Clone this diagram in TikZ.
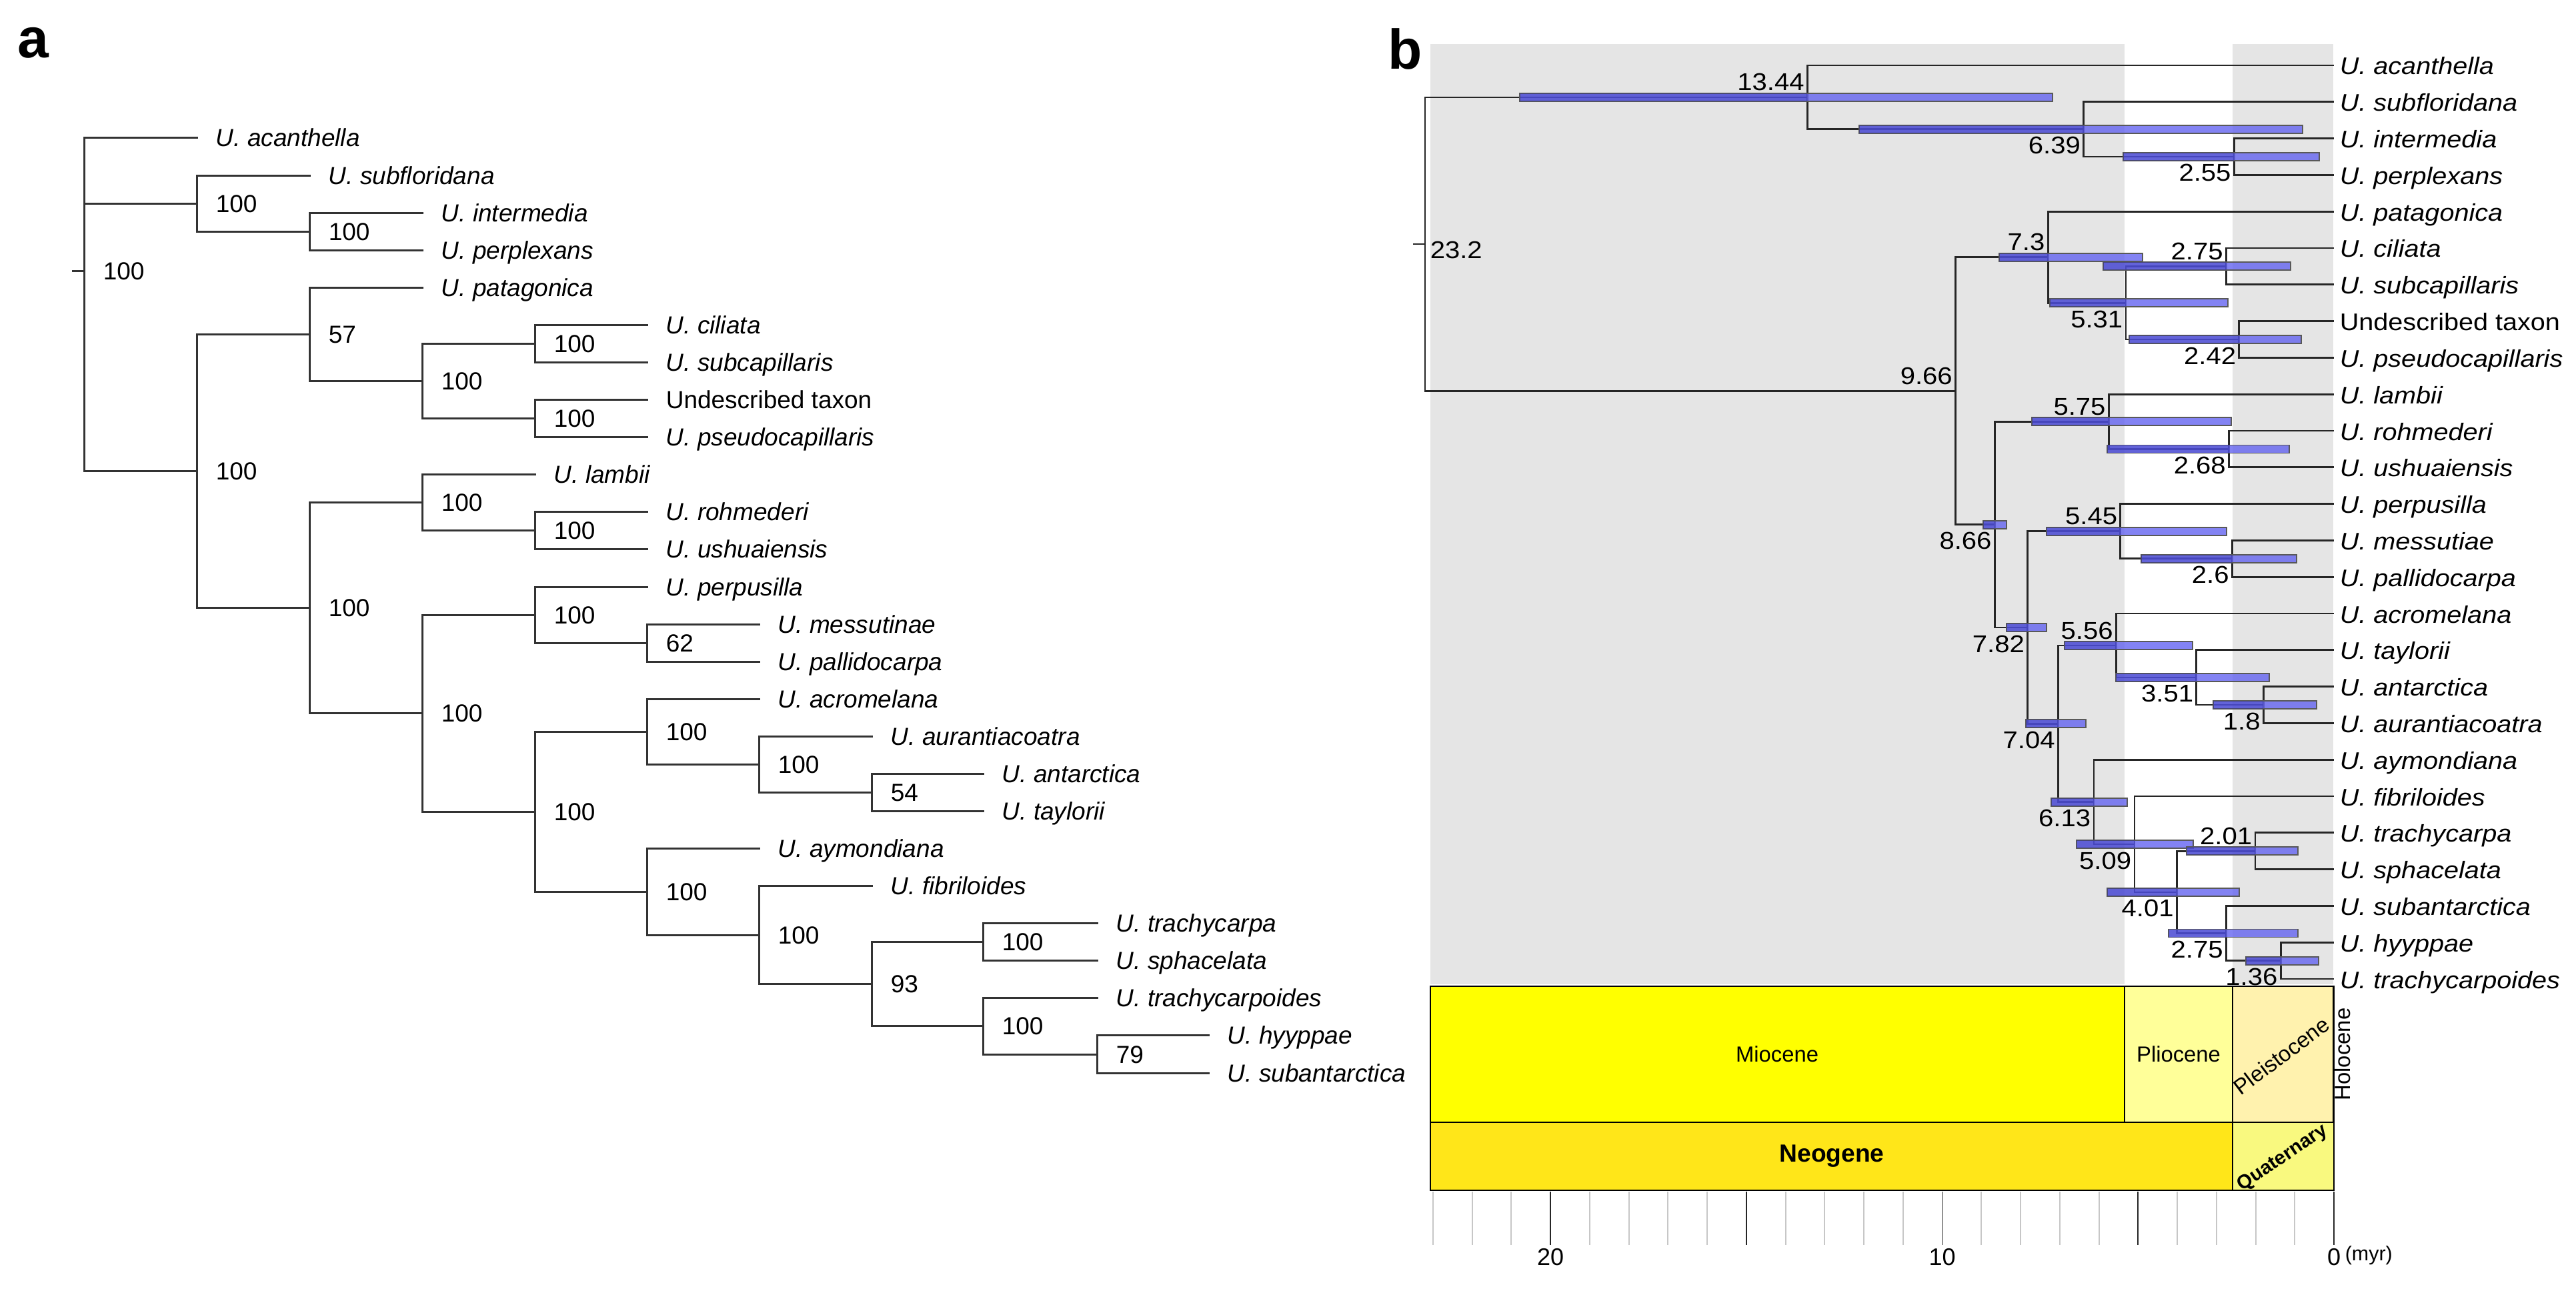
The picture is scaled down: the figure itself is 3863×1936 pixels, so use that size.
\documentclass[tikz,border=0pt]{standalone}
\usepackage{fontspec}
\setmainfont{Liberation Sans}
\newfontfamily\stretchfam[FakeStretch=1.1]{Liberation Sans}
\definecolor{bggray}{RGB}{229,229,229}
\definecolor{hpdblue}{RGB}{100,100,240}
\definecolor{hpddark}{RGB}{40,40,170}
\definecolor{miocene}{RGB}{255,255,0}
\definecolor{pliocene}{RGB}{255,255,153}
\definecolor{pleisto}{RGB}{255,242,174}
\definecolor{holo}{RGB}{254,242,224}
\definecolor{neogene}{RGB}{255,230,25}
\definecolor{quat}{RGB}{249,249,127}
\tikzset{
 brA/.style={draw=black!80, line width=0.75pt, line cap=rect},
 brB/.style={draw=black!85, line width=0.7pt, line cap=rect},
 tipA/.style={anchor=base west, inner sep=0pt, font=\fontsize{9.25pt}{11pt}\selectfont\itshape},
 tipAu/.style={anchor=base west, inner sep=0pt, font=\fontsize{9.25pt}{11pt}\selectfont},
 supA/.style={anchor=base west, inner sep=0pt, font=\fontsize{9.25pt}{11pt}\selectfont},
 tipB/.style={anchor=base west, inner sep=0pt, font=\stretchfam\fontsize{9pt}{11pt}\selectfont\itshape},
 tipBu/.style={anchor=base west, inner sep=0pt, font=\stretchfam\fontsize{9pt}{11pt}\selectfont},
 ageB/.style={anchor=base east, inner sep=0pt, font=\stretchfam\fontsize{9.1pt}{11pt}\selectfont},
 hpd/.style={fill=hpdblue, fill opacity=0.8, draw=black!65, line width=0.45pt},
 hpdleft/.style={fill=hpddark, fill opacity=0.35},
 geo/.style={draw=black, line width=0.6pt},
 geolab/.style={inner sep=0pt, font=\fontsize{8.2pt}{10pt}\selectfont},
 panellab/.style={anchor=base west, inner sep=0pt, font=\fontsize{21pt}{24pt}\selectfont\bfseries},
 minortick/.style={draw=black!22, line width=0.5pt},
 majortick/.style={draw=black!85, line width=0.4pt},
 axlab/.style={anchor=base, inner sep=0pt, font=\fontsize{9pt}{11pt}\selectfont},
}
\begin{document}
\begin{tikzpicture}[x=0.25pt, y=-0.25pt]
\useasboundingbox (0,0) rectangle (3863,1936);
\fill[white] (0,0) rectangle (3863,1936);

% ================= panel a =================
\node[panellab] (labA) at (26,87) {a};

% tips (line ends)
\coordinate (aT0) at (295,207);
\coordinate (aT1) at (464,263.1);
\coordinate (aT2) at (633,319.2);
\coordinate (aT3) at (633,375.2);
\coordinate (aT4) at (633,431.3);
\coordinate (aT5) at (970,487.4);
\coordinate (aT6) at (970,543.5);
\coordinate (aT7) at (970,599.6);
\coordinate (aT8) at (970,655.6);
\coordinate (aT9) at (802,711.7);
\coordinate (aT10) at (970,767.8);
\coordinate (aT11) at (970,823.9);
\coordinate (aT12) at (970,880.0);
\coordinate (aT13) at (1138,936.0);
\coordinate (aT14) at (1138,992.1);
\coordinate (aT15) at (1138,1048.2);
\coordinate (aT16) at (1307,1104.3);
\coordinate (aT17) at (1474,1160.4);
\coordinate (aT18) at (1474,1216.4);
\coordinate (aT19) at (1138,1272.5);
\coordinate (aT20) at (1307,1328.6);
\coordinate (aT21) at (1645,1384.7);
\coordinate (aT22) at (1645,1440.8);
\coordinate (aT23) at (1645,1496.8);
\coordinate (aT24) at (1812,1552.9);
\coordinate (aT25) at (1812,1609);

% internal nodes
\coordinate (aR) at (126,406.3);
\coordinate (aRt) at (109,406.3);
\coordinate (aN1) at (295,305.2);
\coordinate (aN2) at (464,347.2);
\coordinate (aN3) at (295,706.6);
\coordinate (aN4) at (464,501.4);
\coordinate (aN5) at (633,571.5);
\coordinate (aN6) at (802,515.5);
\coordinate (aN7) at (802,627.6);
\coordinate (aN9) at (464,911.8);
\coordinate (aN10) at (633,753.8);
\coordinate (aN11) at (802,795.9);
\coordinate (aN12) at (633,1069.7);
\coordinate (aN13) at (802,922);
\coordinate (aN14) at (970,964.1);
\coordinate (aN15) at (802,1217.3);
\coordinate (aN16) at (970,1097.3);
\coordinate (aN17) at (1138,1146.3);
\coordinate (aN18) at (1307,1188.4);
\coordinate (aN19) at (970,1337.4);
\coordinate (aN20) at (1138,1402.2);
\coordinate (aN21) at (1307,1475.8);
\coordinate (aN22) at (1474,1412.7);
\coordinate (aN23) at (1474,1538.9);
\coordinate (aN24) at (1645,1581);

\draw[brA] (aRt) -- (aR);
\foreach \p/\c in {aR/aT0, aR/aN1, aR/aN3, aN1/aT1, aN1/aN2, aN2/aT2, aN2/aT3,
  aN3/aN4, aN3/aN9, aN4/aT4, aN4/aN5, aN5/aN6, aN5/aN7, aN6/aT5, aN6/aT6,
  aN7/aT7, aN7/aT8, aN9/aN10, aN9/aN12, aN10/aT9, aN10/aN11, aN11/aT10, aN11/aT11,
  aN12/aN13, aN12/aN15, aN13/aT12, aN13/aN14, aN14/aT13, aN14/aT14,
  aN15/aN16, aN15/aN19, aN16/aT15, aN16/aN17, aN17/aT16, aN17/aN18,
  aN18/aT17, aN18/aT18, aN19/aT19, aN19/aN20, aN20/aT20, aN20/aN21,
  aN21/aN22, aN21/aN23, aN22/aT21, aN22/aT22, aN23/aT23, aN23/aN24,
  aN24/aT24, aN24/aT25}
  \draw[brA] (\p) |- (\c);

% tip labels
\path (aT0) ++(28,13) node[tipA] (aL0) {U. acanthella};
\path (aT1) ++(28,13) node[tipA] (aL1) {U. subfloridana};
\path (aT2) ++(28,13) node[tipA] (aL2) {U. intermedia};
\path (aT3) ++(28,13) node[tipA] (aL3) {U. perplexans};
\path (aT4) ++(28,13) node[tipA] (aL4) {U. patagonica};
\path (aT5) ++(28,13) node[tipA] (aL5) {U. ciliata};
\path (aT6) ++(28,13) node[tipA] (aL6) {U. subcapillaris};
\path (aT7) ++(28,13) node[tipAu] (aL7) {Undescribed taxon};
\path (aT8) ++(28,13) node[tipA] (aL8) {U. pseudocapillaris};
\path (aT9) ++(28,13) node[tipA] (aL9) {U. lambii};
\path (aT10) ++(28,13) node[tipA] (aL10) {U. rohmederi};
\path (aT11) ++(28,13) node[tipA] (aL11) {U. ushuaiensis};
\path (aT12) ++(28,13) node[tipA] (aL12) {U. perpusilla};
\path (aT13) ++(28,13) node[tipA] (aL13) {U. messutinae};
\path (aT14) ++(28,13) node[tipA] (aL14) {U. pallidocarpa};
\path (aT15) ++(28,13) node[tipA] (aL15) {U. acromelana};
\path (aT16) ++(28,13) node[tipA] (aL16) {U. aurantiacoatra};
\path (aT17) ++(28,13) node[tipA] (aL17) {U. antarctica};
\path (aT18) ++(28,13) node[tipA] (aL18) {U. taylorii};
\path (aT19) ++(28,13) node[tipA] (aL19) {U. aymondiana};
\path (aT20) ++(28,13) node[tipA] (aL20) {U. fibriloides};
\path (aT21) ++(28,13) node[tipA] (aL21) {U. trachycarpa};
\path (aT22) ++(28,13) node[tipA] (aL22) {U. sphacelata};
\path (aT23) ++(28,13) node[tipA] (aL23) {U. trachycarpoides};
\path (aT24) ++(28,13) node[tipA] (aL24) {U. hyyppae};
\path (aT25) ++(28,13) node[tipA] (aL25) {U. subantarctica};

% support values
\foreach \n/\v in {aR/100, aN1/100, aN2/100, aN3/100, aN4/57, aN5/100, aN6/100, aN7/100,
  aN9/100, aN10/100, aN11/100, aN12/100, aN13/100, aN14/62, aN15/100, aN16/100,
  aN17/100, aN18/54, aN19/100, aN20/100, aN21/93, aN22/100, aN23/100, aN24/79}
  \path (\n) ++(28,13) node[supA] (s\n) {\v};

% ================= panel b =================
\node[panellab] (labB) at (2081,104) {b};

% background epochs
\fill[bggray] (2145,66) rectangle (3186,1476);
\fill[bggray] (3348,66) rectangle (3499,1476);

% tips
\coordinate (bx0) at (3499,98);
\coordinate (bx1) at (3499,152.8);
\coordinate (bx2) at (3499,207.6);
\coordinate (bx3) at (3499,262.4);
\coordinate (bx4) at (3499,317.2);
\coordinate (bx5) at (3499,372);
\coordinate (bx6) at (3499,426.8);
\coordinate (bx7) at (3499,481.6);
\coordinate (bx8) at (3499,536.4);
\coordinate (bx9) at (3499,591.2);
\coordinate (bx10) at (3499,646);
\coordinate (bx11) at (3499,700.8);
\coordinate (bx12) at (3499,755.6);
\coordinate (bx13) at (3499,810.4);
\coordinate (bx14) at (3499,865.2);
\coordinate (bx15) at (3499,920);
\coordinate (bx16) at (3499,974.8);
\coordinate (bx17) at (3499,1029.6);
\coordinate (bx18) at (3499,1084.4);
\coordinate (bx19) at (3499,1139.2);
\coordinate (bx20) at (3499,1194);
\coordinate (bx21) at (3499,1248.8);
\coordinate (bx22) at (3499,1303.6);
\coordinate (bx23) at (3499,1358.4);
\coordinate (bx24) at (3499,1413.2);
\coordinate (bx25) at (3499,1468);

% internal nodes (x = 3500 - 58.75 * age)
\coordinate (bnR) at (2137,366.1);
\coordinate (bnRt) at (2120,366.1);
\coordinate (bnA) at (2710.4,146.0);
\coordinate (bnC) at (3124.6,193.9);
\coordinate (bnD) at (3350.2,235.0);
\coordinate (bnB) at (2932.5,586.2);
\coordinate (bnE) at (3071.1,385.7);
\coordinate (bnG) at (3188.0,454.2);
\coordinate (bnH) at (3338.4,399.4);
\coordinate (bnI) at (3357.8,509.0);
\coordinate (bnF) at (2991.2,786.7);
\coordinate (bnJ) at (3162.2,632.3);
\coordinate (bnL) at (3342.5,673.4);
\coordinate (bnK) at (3040.6,941.0);
\coordinate (bnM) at (3179.8,796.7);
\coordinate (bnO) at (3347.3,837.8);
\coordinate (bnN) at (3086.4,1085.3);
\coordinate (bnP) at (3173.4,968.0);
\coordinate (bnS) at (3293.8,1015.9);
\coordinate (bnT) at (3394.3,1057.0);
\coordinate (bnQ) at (3139.9,1202.6);
\coordinate (bnU) at (3200.9,1266.0);
\coordinate (bnV) at (3264.4,1337.9);
\coordinate (bnW) at (3381.9,1276.2);
\coordinate (bnX) at (3338.4,1399.5);
\coordinate (bnY) at (3420.1,1440.6);

\draw[brB] (bnRt) -- (bnR);
\foreach \p/\c in {bnR/bnA, bnR/bnB, bnA/bx0, bnA/bnC, bnC/bx1, bnC/bnD, bnD/bx2, bnD/bx3,
  bnB/bnE, bnB/bnF, bnE/bx4, bnE/bnG, bnG/bnH, bnG/bnI, bnH/bx5, bnH/bx6, bnI/bx7, bnI/bx8,
  bnF/bnJ, bnF/bnK, bnJ/bx9, bnJ/bnL, bnL/bx10, bnL/bx11, bnK/bnM, bnK/bnN,
  bnM/bx12, bnM/bnO, bnO/bx13, bnO/bx14, bnN/bnP, bnN/bnQ, bnP/bx15, bnP/bnS,
  bnS/bx16, bnS/bnT, bnT/bx17, bnT/bx18, bnQ/bx19, bnQ/bnU, bnU/bx20, bnU/bnV,
  bnV/bnW, bnV/bnX, bnW/bx21, bnW/bx22, bnX/bx23, bnX/bnY, bnY/bx24, bnY/bx25}
  \draw[brB] (\p) |- (\c);

% HPD bars (start / end / node x / y)
\foreach \xa/\xb/\xn/\yy in {2279/3078/2710.4/146.0, 2788/3453/3124.6/193.9, 3184/3478/3350.2/235.0,
  2998/3213/3071.1/385.7, 3154/3435/3338.4/399.4, 3074/3341/3188.0/454.2, 3193/3451/3357.8/509.0,
  3047/3346/3162.2/632.3, 3160/3433/3342.5/673.4, 2974/3009/2991.2/786.7, 3069/3339/3179.8/796.7,
  3211/3444/3347.3/837.8, 3009/3069/3040.6/941.0, 3096/3288/3173.4/968.0, 3173/3403/3293.8/1015.9,
  3319/3474/3394.3/1057.0, 3038/3128/3086.4/1085.3, 3076/3190/3139.9/1202.6, 3114/3289/3200.9/1266.0,
  3279/3446/3381.9/1276.2, 3160/3358/3264.4/1337.9, 3252/3446/3338.4/1399.5, 3368/3477/3420.1/1440.6}
{
  \draw[hpd] (\xa,\yy-6) rectangle (\xb,\yy+6);
  \fill[hpdleft] (\xa,\yy-6) rectangle (\xn,\yy+6);
}

% node ages
\path (bnR) ++(7,21) node[ageB, anchor=base west] (agR) {23.2};
\foreach \n/\v in {bnA/13.44, bnB/9.66, bnE/7.3, bnH/2.75, bnJ/5.75, bnM/5.45, bnP/5.56, bnW/2.01}
  \path (\n) ++(-4,-10) node[ageB] (ag\n) {\v};
\foreach \n/\v in {bnC/6.39, bnD/2.55, bnG/5.31, bnI/2.42, bnF/8.66, bnL/2.68, bnK/7.82,
  bnO/2.6, bnN/7.04, bnS/3.51, bnT/1.8, bnQ/6.13, bnU/5.09, bnV/4.01, bnX/2.75, bnY/1.36}
  \path (\n) ++(-4,37) node[ageB] (ag\n) {\v};

% tip labels
\path (bx0) ++(9,14) node[tipB] (bL0) {U. acanthella};
\path (bx1) ++(9,14) node[tipB] (bL1) {U. subfloridana};
\path (bx2) ++(9,14) node[tipB] (bL2) {U. intermedia};
\path (bx3) ++(9,14) node[tipB] (bL3) {U. perplexans};
\path (bx4) ++(9,14) node[tipB] (bL4) {U. patagonica};
\path (bx5) ++(9,14) node[tipB] (bL5) {U. ciliata};
\path (bx6) ++(9,14) node[tipB] (bL6) {U. subcapillaris};
\path (bx7) ++(9,14) node[tipBu] (bL7) {Undescribed taxon};
\path (bx8) ++(9,14) node[tipB] (bL8) {U. pseudocapillaris};
\path (bx9) ++(9,14) node[tipB] (bL9) {U. lambii};
\path (bx10) ++(9,14) node[tipB] (bL10) {U. rohmederi};
\path (bx11) ++(9,14) node[tipB] (bL11) {U. ushuaiensis};
\path (bx12) ++(9,14) node[tipB] (bL12) {U. perpusilla};
\path (bx13) ++(9,14) node[tipB] (bL13) {U. messutiae};
\path (bx14) ++(9,14) node[tipB] (bL14) {U. pallidocarpa};
\path (bx15) ++(9,14) node[tipB] (bL15) {U. acromelana};
\path (bx16) ++(9,14) node[tipB] (bL16) {U. taylorii};
\path (bx17) ++(9,14) node[tipB] (bL17) {U. antarctica};
\path (bx18) ++(9,14) node[tipB] (bL18) {U. aurantiacoatra};
\path (bx19) ++(9,14) node[tipB] (bL19) {U. aymondiana};
\path (bx20) ++(9,14) node[tipB] (bL20) {U. fibriloides};
\path (bx21) ++(9,14) node[tipB] (bL21) {U. trachycarpa};
\path (bx22) ++(9,14) node[tipB] (bL22) {U. sphacelata};
\path (bx23) ++(9,14) node[tipB] (bL23) {U. subantarctica};
\path (bx24) ++(9,14) node[tipB] (bL24) {U. hyyppae};
\path (bx25) ++(9,14) node[tipB] (bL25) {U. trachycarpoides};

% geological time scale
\draw[geo, fill=miocene] (2145,1479) rectangle (3186,1683);
\draw[geo, fill=pliocene] (3186,1479) rectangle (3348,1683);
\draw[geo, fill=pleisto] (3348,1479) rectangle (3499,1683);
\draw[geo, fill=holo] (3499,1479) rectangle (3500,1683);
\draw[geo, fill=neogene] (2145,1683) rectangle (3348,1785);
\draw[geo, fill=quat] (3348,1683) rectangle (3500,1785);
\node[geolab] (gMio) at (2665,1581) {Miocene};
\node[geolab] (gPlio) at (3267,1581) {Pliocene};
\node[geolab, rotate=37] (gPlei) at (3421,1583) {Pleistocene};
\node[geolab, rotate=90] (gHolo) at (3513,1581) {Holocene};
\node[inner sep=0pt, font=\fontsize{9.3pt}{11pt}\selectfont\bfseries] (gNeo) at (2747,1734) {Neogene};
\node[inner sep=0pt, rotate=34, font=\fontsize{7.3pt}{9pt}\selectfont\bfseries] (gQuat) at (3423,1737) {Quaternary};

% time axis
\foreach \i in {1,2,3,4,6,7,8,9,11,12,13,14,16,17,18,19,21,22,23}
  \draw[minortick] ({3500-58.75*\i},1787) -- ({3500-58.75*\i},1867);
\foreach \i in {0,5,10,15,20}
  \draw[majortick] ({3500-58.75*\i},1787) -- ({3500-58.75*\i},1867);
\node[axlab] (ax20) at (2325,1897) {20};
\node[axlab] (ax10) at (2912.5,1897) {10};
\node[axlab] (ax0) at (3500,1897) {0};
\node[anchor=base west, inner sep=0pt, font=\fontsize{7.6pt}{9pt}\selectfont] (axunit) at (3516,1890) {(myr)};
\end{tikzpicture}
\end{document}
